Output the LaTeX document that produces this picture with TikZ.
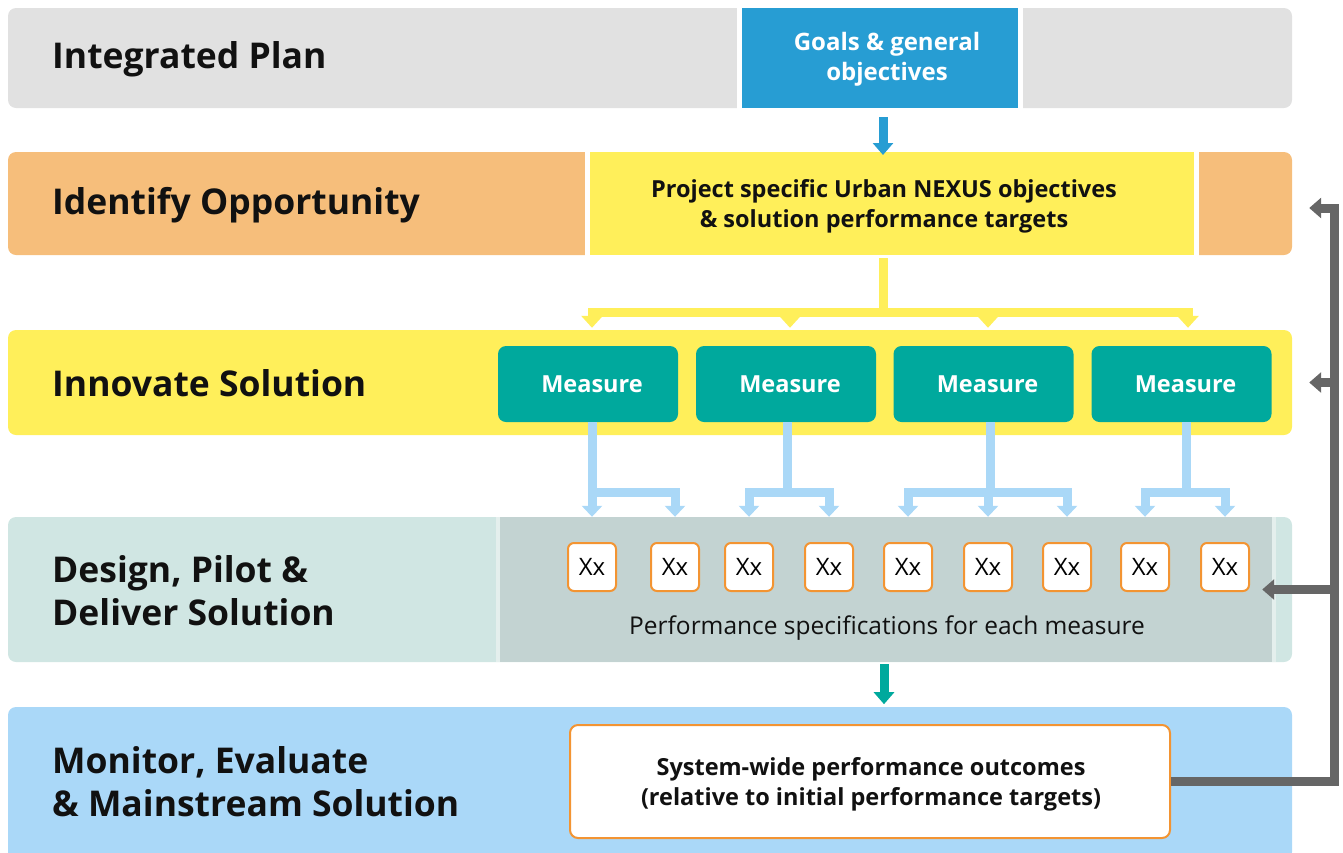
\documentclass[tikz,border=0pt]{standalone}
\usepackage{fontspec}
\setmainfont{Open Sans}
\usetikzlibrary{arrows.meta, positioning}

\definecolor{plangray}{HTML}{E1E1E1}
\definecolor{goalblue}{HTML}{279DD3}
\definecolor{opporange}{HTML}{F6BE7B}
\definecolor{innoyellow}{HTML}{FFEF5A}
\definecolor{measteal}{HTML}{00A99D}
\definecolor{linkblue}{HTML}{AAD8F7}
\definecolor{designmint}{HTML}{D0E6E3}
\definecolor{designgray}{HTML}{C3D3D2}
\definecolor{designline}{HTML}{E4EFED}
\definecolor{monitorblue}{HTML}{AAD8F8}
\definecolor{xxorange}{HTML}{F39432}
\definecolor{backgray}{HTML}{666666}
\definecolor{ink}{HTML}{111111}

\tikzset{
  band/.style={fill=#1, rounded corners=8pt, inner sep=0pt, minimum width=1284pt},
  title/.style={anchor=west, align=left, inner sep=0pt, text=ink, font=\fontsize{35.5}{43}\selectfont\bfseries},
  headbox/.style={fill=#1, draw=white, line width=5pt, inner sep=0pt},
  measure/.style={fill=measteal, rounded corners=8pt, minimum width=180pt, minimum height=76pt,
    inner sep=0pt},
  xxbox/.style={fill=white, draw=xxorange, line width=2pt, rounded corners=6pt,
    minimum width=48pt, minimum height=48pt, inner sep=0pt, font=\fontsize{24}{28}\selectfont},
  yconn/.style={draw=innoyellow, line width=9pt, -{Triangle[width=21pt,length=12pt]}},
  bconn/.style={draw=linkblue, line width=9pt, -{Triangle[width=20pt,length=11pt]}},
  gconn/.style={draw=backgray, line width=9pt, -{Triangle[width=20pt,length=12pt]}},
}

\begin{document}
\begin{tikzpicture}[x=1pt, y=-1pt]
\useasboundingbox (0,0) rectangle (1343,852);

% the five phase bands
\node[band=plangray,    minimum height=100pt] (plan)    at (650,58)    {};
\node[band=opporange,   minimum height=103pt] (ident)   at (650,203.5) {};
\node[band=innoyellow,  minimum height=105pt] (inno)    at (650,382.5) {};
\node[band=designmint,  minimum height=145pt] (design)  at (650,589.5) {};
\node[band=monitorblue, minimum height=153pt] (monitor) at (650,783.5) {};

\node[title] (plan-t)    at (52,59)    {Integrated Plan};
\node[title] (ident-t)   at (52,205)   {Identify Opportunity};
\node[title] (inno-t)    at (52,383.5) {Innovate Solution};
\node[title] (design-t)  at (52,590.5) {Design, Pilot \&\\Deliver Solution};
\node[title] (monitor-t) at (52,782)   {Monitor, Evaluate\\\& Mainstream Solution};

% boxes inside the bands
\node[headbox=goalblue, minimum width=281pt, minimum height=105pt] (goals) at (879.5,58) {};
\node[align=center, text=white, font=\fontsize{24}{30}\selectfont\bfseries] (goals-t) at (887,59)
  {Goals \& general\\objectives};
\node[headbox=innoyellow, minimum width=609pt, minimum height=108pt] (proj) at (891.5,203.5) {};
\node[align=center, text=ink, font=\fontsize{23.5}{30}\selectfont\bfseries] (proj-t) at (884,206)
  {Project specific Urban NEXUS objectives\\\& solution performance targets};

\foreach \i/\x in {1/588, 2/786, 3/983.5, 4/1181.5} {
  \node[measure] (m\i) at (\x,384) {};
  \node[text=white, font=\fontsize{23.5}{28}\selectfont\bfseries] (m\i-t) at ([xshift=4pt]m\i.center) {Measure};
};

\node[fill=designgray, minimum width=772pt, minimum height=145pt, inner sep=0pt] (inner) at (886,589.5) {};
\draw[designline, line width=4pt] ([xshift=-2pt]inner.north west) -- ([xshift=-2pt]inner.south west);
\draw[designline, line width=4pt] ([xshift=2pt]inner.north east) -- ([xshift=2pt]inner.south east);

\foreach \i/\x in {1/592, 2/675, 3/749, 4/829, 5/908, 6/988, 7/1067, 8/1145, 9/1225} {
  \node[xxbox] (x\i) at (\x,567) {Xx};
};
\node[text=ink, font=\fontsize{24.5}{28}\selectfont] (spec) at (887,628)
  {Performance specifications for each measure};

\node[fill=white, draw=xxorange, line width=2pt, rounded corners=8pt, minimum width=600pt,
  minimum height=113pt, align=center, text=ink, font=\fontsize{23.5}{30}\selectfont\bfseries]
  (outcome) at (870,781.5) {};
\node[align=center, text=ink, font=\fontsize{23.5}{30}\selectfont\bfseries] (outcome-t) at (871,784)
  {System-wide performance outcomes\\(relative to initial performance targets)};

% connectors
\draw[draw=goalblue, line width=9pt, -{Triangle[width=20pt,length=12pt]}] (goals.south) ++(3.5,4) -- ++(0,38);
\foreach \m/\s in {1/4, 2/4, 3/4.5, 4/6.5} {
  \draw[yconn] (proj.south) ++(-8.5,-2) -- ++(0,54) -| ([xshift=\s pt, yshift=2pt]m\m.north |- inno.north);
};
\foreach \m/\a/\s in {1/1/4, 1/2/4, 2/3/1, 2/4/1, 3/5/6.5, 3/6/6.5, 3/7/6.5, 4/8/4.5, 4/9/4.5} {
  \draw[bconn] ([xshift=\s pt]m\m.south) -- ++(0,70) -| (x\a |- design.north);
};
\draw[draw=measteal, line width=9pt, -{Triangle[width=20pt,length=12pt]}] ([xshift=-2pt]inner.south) ++(0,2) -- ++(0,40);

% feedback loop
\coordinate (fb) at (1334,0);
\draw[gconn] (outcome.east) -- (fb |- outcome.east) -- ([yshift=-4.5pt]fb |- ident) -- ([xshift=17pt,yshift=-4.5pt]ident.east);
\draw[gconn] (fb |- inno) -- ([xshift=17pt]inno.east);
\draw[gconn] (fb |- design) -- ([xshift=-30pt]design.east);

\end{tikzpicture}
\end{document}
